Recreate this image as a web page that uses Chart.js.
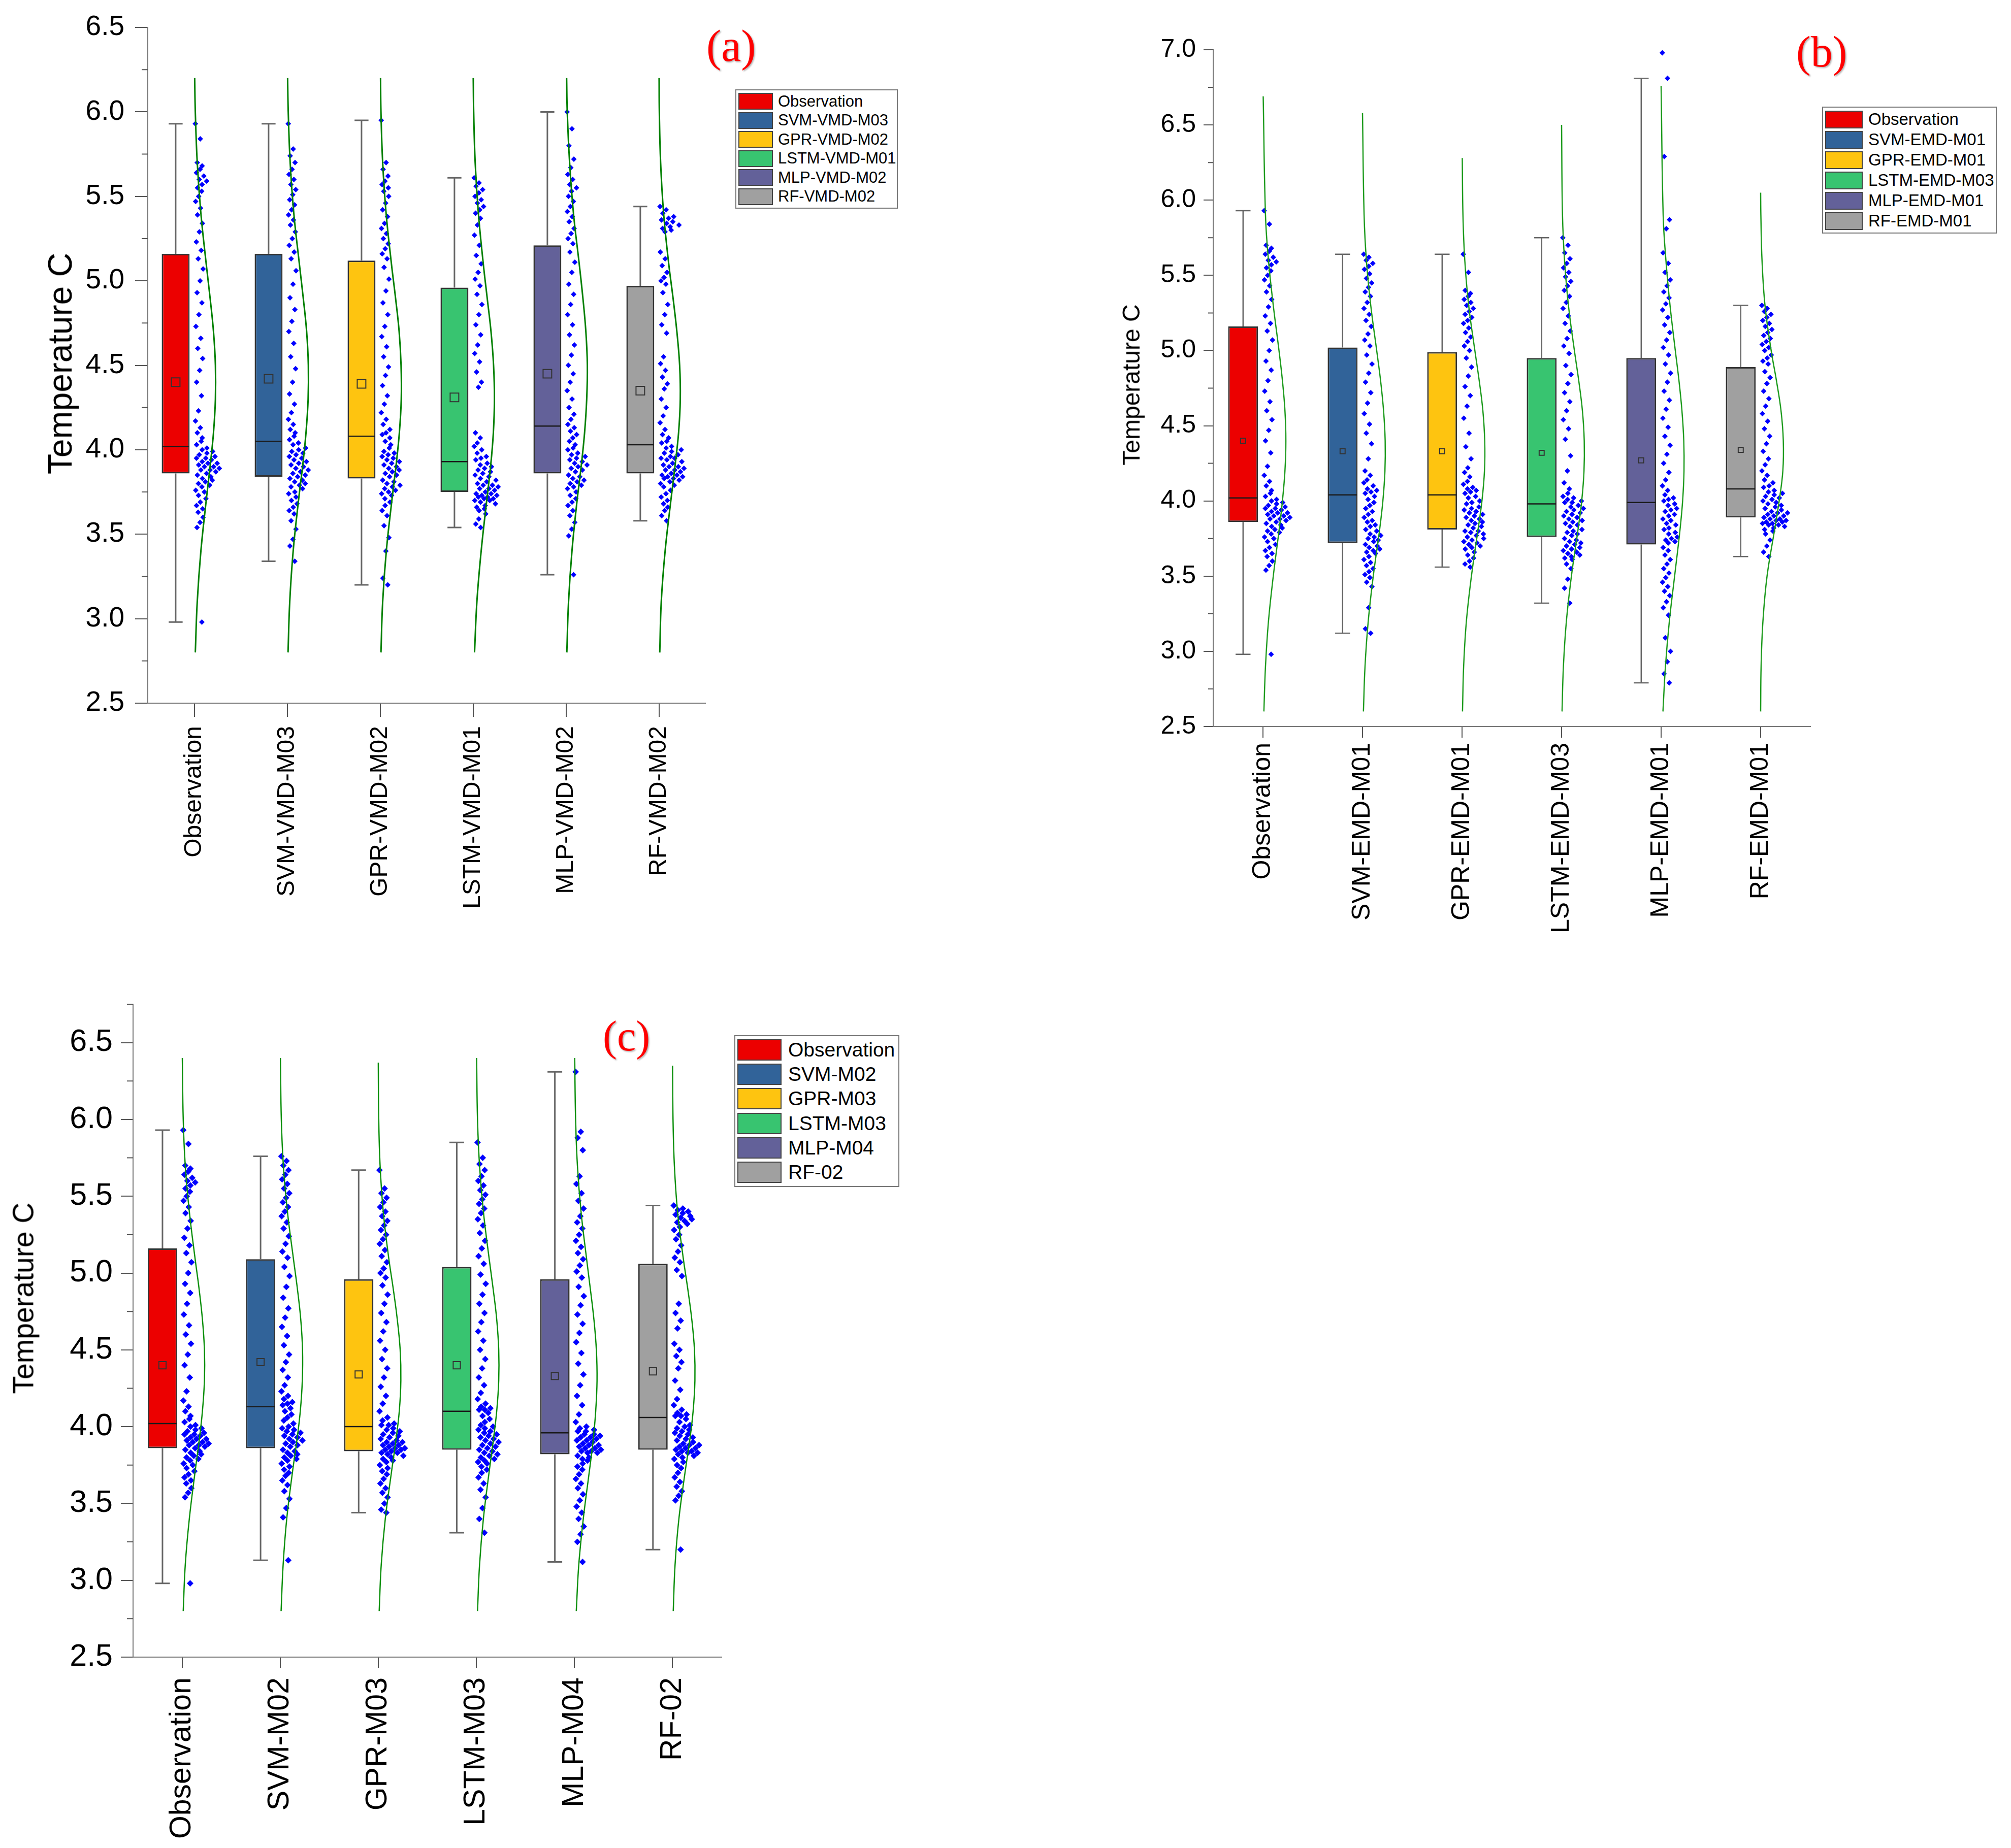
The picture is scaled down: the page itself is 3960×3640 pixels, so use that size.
<!DOCTYPE html>
<html>
<head>
<meta charset="utf-8">
<title>Temperature distributions by model</title>
<script src="https://cdn.jsdelivr.net/npm/chart.js@4.4.1/dist/chart.umd.min.js"></script>
<style>
  body { margin: 0; background: #fff; font-family: 'Liberation Sans', Arial, sans-serif; }
  #page { position: relative; width: 3960px; height: 3640px; overflow: hidden; background: #fff; }
  canvas { position: absolute; }
  .legend { position: absolute; border: 2px solid #777; box-sizing: border-box; background: #fff; padding: 3px 4px; color: #000; }
  .legend .row { display: flex; align-items: center; white-space: nowrap; }
  .legend .swatch { box-sizing: border-box; border: 2px solid #444; flex: none; }
  .tag { position: absolute; font-family: 'Liberation Serif', 'Times New Roman', serif; color: #f00; line-height: 1; text-shadow: 2px 2px 3px rgba(0,0,0,0.3); }
  .ytitle { position: absolute; white-space: nowrap; line-height: 1; color: #000; transform: translate(-50%, -50%) rotate(-90deg); }
</style>
</head>
<body>
<div id="page">
  <canvas id="chartA" width="1403" height="1805" style="left:0;top:0"></canvas>
  <canvas id="chartB" width="1474" height="1871" style="left:2100px;top:0"></canvas>
  <canvas id="chartC" width="1433" height="1764" style="left:0;top:1900px"></canvas>
</div>
<script>
// ---- categories and tick labels ----
const aCategories = ['Observation', 'SVM-VMD-M03', 'GPR-VMD-M02', 'LSTM-VMD-M01', 'MLP-VMD-M02', 'RF-VMD-M02'];
const bCategories = ['Observation', 'SVM-EMD-M01', 'GPR-EMD-M01', 'LSTM-EMD-M03', 'MLP-EMD-M01', 'RF-EMD-M01'];
const cCategories = ['Observation', 'SVM-M02', 'GPR-M03', 'LSTM-M03', 'MLP-M04', 'RF-02'];
const boxColors = ['#EC0000', '#316399', '#FEC410', '#38C470', '#636199', '#A0A0A0'];

const aYTicks = [2.5, 3.0, 3.5, 4.0, 4.5, 5.0, 5.5, 6.0, 6.5];
const bYTicks = [2.5, 3.0, 3.5, 4.0, 4.5, 5.0, 5.5, 6.0, 6.5, 7.0];
const cYTicks = [2.5, 3.0, 3.5, 4.0, 4.5, 5.0, 5.5, 6.0, 6.5];

// ---- box statistics (whisker ends, quartiles, median, mean) ----
const aMin = [2.98, 3.34, 3.20, 3.54, 3.26, 3.58];
const aQ1 = [3.86, 3.84, 3.83, 3.75, 3.86, 3.86];
const aMedian = [4.02, 4.05, 4.08, 3.93, 4.14, 4.03];
const aQ3 = [5.16, 5.16, 5.12, 4.96, 5.21, 4.97];
const aMax = [5.93, 5.93, 5.95, 5.61, 6.00, 5.44];
const aMean = [4.40, 4.42, 4.39, 4.31, 4.45, 4.35];

const bMin = [2.98, 3.12, 3.56, 3.32, 2.79, 3.63];
const bQ1 = [3.86, 3.72, 3.81, 3.76, 3.71, 3.89];
const bMedian = [4.02, 4.04, 4.04, 3.98, 3.99, 4.08];
const bQ3 = [5.16, 5.02, 4.99, 4.95, 4.95, 4.89];
const bMax = [5.93, 5.64, 5.64, 5.75, 6.81, 5.30];
const bMean = [4.40, 4.33, 4.33, 4.32, 4.27, 4.34];

const cMin = [2.98, 3.13, 3.44, 3.31, 3.12, 3.20];
const cQ1 = [3.86, 3.86, 3.84, 3.85, 3.82, 3.85];
const cMedian = [4.02, 4.13, 4.00, 4.10, 3.96, 4.06];
const cQ3 = [5.16, 5.09, 4.96, 5.04, 4.96, 5.06];
const cMax = [5.93, 5.76, 5.67, 5.85, 6.31, 5.44];
const cMean = [4.40, 4.42, 4.34, 4.40, 4.33, 4.36];

// ---- individual values ----
const obsPoints = [5.93, 5.84, 5.70, 5.68, 5.66, 5.64, 5.62, 5.60, 5.59, 5.57, 5.55, 5.53, 5.50, 5.47, 5.43, 5.39, 5.34, 5.29, 5.23, 5.18,
  5.13, 5.07, 5.00, 4.93, 4.87, 4.80, 4.73, 4.66, 4.60, 4.54, 4.47, 4.40, 4.32, 4.23, 4.17, 4.13, 4.10, 4.07, 4.05, 4.03,
  4.01, 4.00, 3.99, 3.98, 3.97, 3.96, 3.95, 3.95, 3.94, 3.93, 3.92, 3.92, 3.91, 3.90, 3.90, 3.89, 3.88, 3.88, 3.87, 3.86,
  3.85, 3.84, 3.83, 3.82, 3.81, 3.80, 3.79, 3.78, 3.76, 3.75, 3.73, 3.71, 3.69, 3.67, 3.65, 3.63, 3.60, 3.57, 3.54, 2.98];

const aSvmPoints = [5.93, 5.78, 5.74, 5.70, 5.66, 5.63, 5.60, 5.57, 5.54, 5.51, 5.48, 5.45, 5.42, 5.39, 5.36, 5.33, 5.29, 5.25, 5.21, 5.17,
  5.13, 5.06, 4.98, 4.90, 4.83, 4.76, 4.70, 4.63, 4.55, 4.48, 4.40, 4.33, 4.27, 4.22, 4.18, 4.15, 4.12, 4.10, 4.08, 4.06,
  4.04, 4.03, 4.01, 4.00, 3.99, 3.98, 3.97, 3.96, 3.95, 3.94, 3.93, 3.92, 3.91, 3.90, 3.89, 3.88, 3.87, 3.86, 3.85, 3.84,
  3.83, 3.82, 3.81, 3.80, 3.79, 3.78, 3.77, 3.75, 3.74, 3.72, 3.70, 3.68, 3.66, 3.64, 3.62, 3.58, 3.53, 3.47, 3.43, 3.34];
const aGprPoints = [5.95, 5.70, 5.66, 5.62, 5.59, 5.57, 5.55, 5.53, 5.50, 5.46, 5.42, 5.38, 5.34, 5.31, 5.28, 5.25, 5.22, 5.19, 5.16, 5.13,
  5.08, 5.01, 4.94, 4.87, 4.80, 4.73, 4.67, 4.61, 4.55, 4.49, 4.44, 4.38, 4.32, 4.27, 4.22, 4.18, 4.15, 4.12, 4.10, 4.09,
  4.07, 4.05, 4.03, 4.01, 3.99, 3.98, 3.97, 3.96, 3.95, 3.94, 3.93, 3.92, 3.91, 3.90, 3.89, 3.88, 3.87, 3.86, 3.85, 3.84,
  3.82, 3.81, 3.80, 3.79, 3.78, 3.77, 3.76, 3.75, 3.74, 3.73, 3.71, 3.69, 3.67, 3.64, 3.61, 3.55, 3.48, 3.40, 3.24, 3.20];
const aLstmPoints = [5.61, 5.58, 5.56, 5.54, 5.52, 5.50, 5.48, 5.46, 5.44, 5.42, 5.40, 5.37, 5.33, 5.27, 5.21, 5.15, 5.10, 5.05, 5.01, 4.97,
  4.92, 4.86, 4.80, 4.74, 4.68, 4.62, 4.57, 4.52, 4.46, 4.40, 4.37, 4.10, 4.07, 4.04, 4.02, 4.00, 3.98, 3.96, 3.95, 3.94,
  3.92, 3.91, 3.90, 3.89, 3.88, 3.87, 3.86, 3.85, 3.84, 3.83, 3.82, 3.81, 3.80, 3.79, 3.79, 3.78, 3.77, 3.77, 3.76, 3.75,
  3.74, 3.74, 3.73, 3.73, 3.72, 3.72, 3.71, 3.71, 3.70, 3.70, 3.69, 3.68, 3.67, 3.66, 3.65, 3.64, 3.62, 3.59, 3.56, 3.54];
const aMlpPoints = [6.00, 5.90, 5.80, 5.72, 5.67, 5.63, 5.60, 5.57, 5.55, 5.53, 5.50, 5.47, 5.44, 5.41, 5.38, 5.35, 5.31, 5.28, 5.25, 5.22,
  5.17, 5.11, 5.05, 4.98, 4.92, 4.86, 4.80, 4.74, 4.68, 4.62, 4.56, 4.50, 4.45, 4.40, 4.35, 4.30, 4.25, 4.21, 4.18, 4.15,
  4.13, 4.11, 4.09, 4.07, 4.05, 4.03, 4.01, 4.00, 3.98, 3.97, 3.96, 3.95, 3.94, 3.93, 3.92, 3.91, 3.90, 3.89, 3.88, 3.87,
  3.85, 3.84, 3.83, 3.82, 3.81, 3.80, 3.79, 3.78, 3.77, 3.75, 3.73, 3.71, 3.69, 3.67, 3.64, 3.61, 3.57, 3.53, 3.49, 3.26];
const aRfPoints = [5.44, 5.42, 5.40, 5.38, 5.37, 5.36, 5.35, 5.34, 5.33, 5.32, 5.31, 5.30, 5.29, 5.17, 5.13, 5.09, 5.05, 5.02, 5.00, 4.98,
  4.93, 4.86, 4.80, 4.74, 4.69, 4.55, 4.51, 4.47, 4.43, 4.39, 4.36, 4.30, 4.25, 4.20, 4.16, 4.12, 4.09, 4.07, 4.05, 4.04,
  4.02, 4.01, 4.00, 3.99, 3.98, 3.97, 3.96, 3.95, 3.95, 3.94, 3.93, 3.92, 3.91, 3.90, 3.90, 3.89, 3.88, 3.88, 3.87, 3.86,
  3.85, 3.85, 3.84, 3.84, 3.83, 3.83, 3.82, 3.81, 3.80, 3.79, 3.78, 3.76, 3.74, 3.72, 3.70, 3.68, 3.66, 3.64, 3.61, 3.58];

const bSvmPoints = [5.64, 5.62, 5.60, 5.58, 5.56, 5.54, 5.51, 5.48, 5.45, 5.42, 5.39, 5.36, 5.32, 5.28, 5.24, 5.20, 5.16, 5.11, 5.07, 5.03,
  4.97, 4.91, 4.85, 4.79, 4.72, 4.65, 4.58, 4.51, 4.45, 4.38, 4.28, 4.20, 4.17, 4.14, 4.12, 4.10, 4.08, 4.07, 4.06, 4.05,
  4.03, 4.01, 3.99, 3.97, 3.95, 3.93, 3.91, 3.89, 3.87, 3.86, 3.84, 3.83, 3.81, 3.80, 3.78, 3.77, 3.76, 3.75, 3.74, 3.73,
  3.71, 3.70, 3.69, 3.68, 3.67, 3.66, 3.65, 3.63, 3.61, 3.59, 3.57, 3.55, 3.53, 3.51, 3.49, 3.46, 3.43, 3.29, 3.15, 3.12];
const bGprPoints = [5.64, 5.52, 5.40, 5.38, 5.36, 5.34, 5.32, 5.30, 5.28, 5.26, 5.24, 5.22, 5.20, 5.18, 5.15, 5.12, 5.09, 5.06, 5.03, 5.00,
  4.95, 4.89, 4.83, 4.76, 4.70, 4.63, 4.55, 4.45, 4.36, 4.28, 4.22, 4.19, 4.16, 4.13, 4.11, 4.09, 4.08, 4.07, 4.06, 4.05,
  4.03, 4.02, 4.00, 3.99, 3.98, 3.96, 3.95, 3.94, 3.93, 3.92, 3.91, 3.90, 3.89, 3.88, 3.87, 3.86, 3.85, 3.84, 3.83, 3.82,
  3.80, 3.80, 3.79, 3.78, 3.77, 3.76, 3.75, 3.74, 3.73, 3.72, 3.71, 3.70, 3.69, 3.68, 3.66, 3.64, 3.62, 3.60, 3.58, 3.56];
const bLstmPoints = [5.75, 5.70, 5.65, 5.61, 5.58, 5.55, 5.52, 5.49, 5.46, 5.43, 5.40, 5.36, 5.32, 5.28, 5.23, 5.18, 5.13, 5.08, 5.03, 4.98,
  4.90, 4.84, 4.78, 4.72, 4.66, 4.60, 4.54, 4.48, 4.41, 4.30, 4.20, 4.12, 4.08, 4.05, 4.03, 4.02, 4.01, 4.00, 3.99, 3.99,
  3.97, 3.96, 3.95, 3.94, 3.93, 3.92, 3.91, 3.90, 3.89, 3.88, 3.87, 3.86, 3.85, 3.84, 3.83, 3.81, 3.80, 3.79, 3.78, 3.77,
  3.75, 3.74, 3.73, 3.72, 3.71, 3.70, 3.69, 3.68, 3.67, 3.66, 3.65, 3.64, 3.63, 3.62, 3.61, 3.58, 3.55, 3.48, 3.42, 3.32];
const bMlpPoints = [6.98, 6.81, 6.29, 5.87, 5.81, 5.65, 5.58, 5.52, 5.47, 5.43, 5.39, 5.35, 5.31, 5.27, 5.22, 5.17, 5.12, 5.07, 5.02, 4.97,
  4.91, 4.85, 4.79, 4.73, 4.67, 4.61, 4.55, 4.49, 4.43, 4.37, 4.31, 4.25, 4.19, 4.14, 4.10, 4.07, 4.04, 4.02, 4.01, 4.00,
  3.98, 3.97, 3.95, 3.94, 3.93, 3.91, 3.90, 3.88, 3.87, 3.85, 3.84, 3.82, 3.81, 3.79, 3.78, 3.76, 3.75, 3.74, 3.73, 3.72,
  3.69, 3.67, 3.64, 3.61, 3.58, 3.55, 3.52, 3.49, 3.46, 3.43, 3.40, 3.37, 3.33, 3.29, 3.24, 3.09, 3.00, 2.93, 2.85, 2.79];
const bRfPoints = [5.30, 5.28, 5.26, 5.24, 5.22, 5.20, 5.18, 5.16, 5.14, 5.12, 5.10, 5.08, 5.06, 5.04, 5.02, 5.00, 4.97, 4.95, 4.93, 4.91,
  4.86, 4.82, 4.78, 4.73, 4.68, 4.63, 4.58, 4.53, 4.48, 4.43, 4.38, 4.33, 4.28, 4.24, 4.20, 4.17, 4.14, 4.12, 4.10, 4.09,
  4.07, 4.06, 4.05, 4.04, 4.03, 4.02, 4.01, 4.00, 3.99, 3.98, 3.97, 3.96, 3.95, 3.94, 3.93, 3.92, 3.92, 3.91, 3.90, 3.90,
  3.89, 3.88, 3.88, 3.87, 3.87, 3.86, 3.86, 3.85, 3.85, 3.84, 3.84, 3.83, 3.82, 3.81, 3.80, 3.78, 3.74, 3.70, 3.66, 3.63];

const cSvmPoints = [5.76, 5.73, 5.70, 5.67, 5.64, 5.61, 5.58, 5.55, 5.52, 5.49, 5.46, 5.43, 5.40, 5.37, 5.33, 5.29, 5.24, 5.19, 5.14, 5.10,
  5.04, 4.98, 4.91, 4.84, 4.77, 4.71, 4.65, 4.59, 4.53, 4.47, 4.42, 4.37, 4.32, 4.27, 4.23, 4.20, 4.18, 4.16, 4.15, 4.14,
  4.12, 4.10, 4.08, 4.06, 4.04, 4.02, 4.00, 3.99, 3.98, 3.97, 3.96, 3.95, 3.94, 3.93, 3.92, 3.91, 3.90, 3.89, 3.88, 3.87,
  3.85, 3.84, 3.83, 3.82, 3.81, 3.80, 3.79, 3.78, 3.76, 3.74, 3.72, 3.70, 3.68, 3.65, 3.62, 3.58, 3.53, 3.47, 3.41, 3.13];
const cGprPoints = [5.67, 5.55, 5.52, 5.49, 5.46, 5.43, 5.40, 5.37, 5.34, 5.31, 5.28, 5.25, 5.22, 5.19, 5.15, 5.11, 5.07, 5.03, 5.00, 4.97,
  4.92, 4.86, 4.80, 4.74, 4.68, 4.62, 4.56, 4.50, 4.44, 4.38, 4.32, 4.26, 4.20, 4.15, 4.10, 4.06, 4.04, 4.02, 4.01, 4.01,
  3.99, 3.98, 3.97, 3.96, 3.95, 3.94, 3.93, 3.92, 3.91, 3.90, 3.90, 3.89, 3.88, 3.88, 3.87, 3.86, 3.86, 3.85, 3.85, 3.84,
  3.83, 3.83, 3.82, 3.81, 3.80, 3.79, 3.78, 3.77, 3.75, 3.73, 3.71, 3.69, 3.66, 3.63, 3.60, 3.57, 3.54, 3.50, 3.46, 3.44];
const cLstmPoints = [5.85, 5.75, 5.71, 5.67, 5.63, 5.60, 5.57, 5.54, 5.51, 5.48, 5.45, 5.42, 5.39, 5.35, 5.31, 5.26, 5.21, 5.16, 5.11, 5.06,
  4.99, 4.93, 4.86, 4.80, 4.74, 4.68, 4.62, 4.56, 4.50, 4.44, 4.38, 4.32, 4.27, 4.22, 4.18, 4.15, 4.13, 4.12, 4.11, 4.11,
  4.09, 4.07, 4.05, 4.03, 4.01, 4.00, 3.99, 3.98, 3.97, 3.96, 3.95, 3.94, 3.93, 3.92, 3.91, 3.90, 3.89, 3.88, 3.87, 3.86,
  3.85, 3.84, 3.83, 3.82, 3.81, 3.80, 3.79, 3.78, 3.77, 3.76, 3.74, 3.72, 3.70, 3.67, 3.63, 3.59, 3.54, 3.47, 3.40, 3.31];
const cMlpPoints = [6.31, 5.92, 5.88, 5.80, 5.63, 5.58, 5.52, 5.47, 5.42, 5.37, 5.33, 5.29, 5.25, 5.21, 5.17, 5.13, 5.09, 5.05, 5.01, 4.97,
  4.91, 4.85, 4.79, 4.73, 4.67, 4.61, 4.55, 4.48, 4.41, 4.34, 4.27, 4.20, 4.14, 4.08, 4.03, 4.00, 3.99, 3.98, 3.97, 3.97,
  3.95, 3.95, 3.94, 3.93, 3.93, 3.92, 3.91, 3.91, 3.90, 3.89, 3.88, 3.88, 3.87, 3.86, 3.86, 3.85, 3.84, 3.84, 3.83, 3.83,
  3.81, 3.80, 3.79, 3.78, 3.76, 3.74, 3.72, 3.69, 3.66, 3.63, 3.60, 3.56, 3.52, 3.48, 3.44, 3.40, 3.35, 3.30, 3.25, 3.12];
const cRfPoints = [5.44, 5.42, 5.41, 5.40, 5.39, 5.38, 5.37, 5.36, 5.35, 5.34, 5.33, 5.32, 5.30, 5.28, 5.25, 5.22, 5.18, 5.14, 5.10, 5.07,
  5.02, 4.98, 4.80, 4.74, 4.69, 4.64, 4.54, 4.50, 4.46, 4.42, 4.38, 4.30, 4.24, 4.18, 4.14, 4.11, 4.09, 4.08, 4.07, 4.07,
  4.05, 4.03, 4.01, 4.00, 3.99, 3.98, 3.97, 3.96, 3.95, 3.94, 3.93, 3.92, 3.91, 3.90, 3.89, 3.88, 3.88, 3.87, 3.86, 3.86,
  3.85, 3.84, 3.84, 3.83, 3.83, 3.82, 3.81, 3.80, 3.79, 3.77, 3.75, 3.73, 3.70, 3.67, 3.64, 3.61, 3.58, 3.55, 3.52, 3.20];

// ---- distribution curves: relative density at each level, last entry = curve end ----
const aCurveLevels = [2.8, 3.1, 3.4, 3.7, 3.9, 4.1, 4.3, 4.5, 4.7, 4.9, 5.1, 5.4, 5.7, 6.0];
const aCurveTop = [6.2, 6.2, 6.2, 6.2, 6.2, 6.2];
const aCurveDensity = [
  [0.05, 0.14, 0.31, 0.56, 0.74, 0.90, 0.99, 0.99, 0.90, 0.74, 0.56, 0.31, 0.14, 0.05, 0.02],
  [0.04, 0.12, 0.28, 0.53, 0.72, 0.88, 0.98, 0.99, 0.91, 0.75, 0.57, 0.31, 0.14, 0.05, 0.02],
  [0.04, 0.12, 0.29, 0.55, 0.74, 0.90, 0.99, 0.98, 0.89, 0.72, 0.53, 0.28, 0.12, 0.04, 0.02],
  [0.07, 0.18, 0.38, 0.64, 0.82, 0.95, 1.00, 0.96, 0.84, 0.66, 0.48, 0.25, 0.10, 0.03, 0.01],
  [0.04, 0.12, 0.28, 0.52, 0.71, 0.87, 0.97, 1.00, 0.93, 0.79, 0.62, 0.35, 0.17, 0.06, 0.03],
  [0.04, 0.11, 0.29, 0.56, 0.75, 0.92, 1.00, 0.97, 0.84, 0.66, 0.46, 0.22, 0.08, 0.02, 0.01]
];
const bCurveLevels = [2.6, 2.9, 3.2, 3.5, 3.8, 4.0, 4.2, 4.4, 4.6, 4.8, 5.0, 5.3, 5.6, 5.9];
const bCurveTop = [6.69, 6.58, 6.28, 6.50, 6.76, 6.05];
const bCurveDensity = [
  [0.04, 0.11, 0.24, 0.45, 0.70, 0.85, 0.96, 1.00, 0.96, 0.85, 0.70, 0.45, 0.24, 0.11, 0.01],
  [0.04, 0.11, 0.25, 0.47, 0.74, 0.89, 0.98, 0.99, 0.92, 0.79, 0.62, 0.36, 0.17, 0.07, 0.00],
  [0.02, 0.07, 0.19, 0.41, 0.69, 0.87, 0.98, 0.99, 0.91, 0.75, 0.56, 0.29, 0.12, 0.04, 0.01],
  [0.02, 0.08, 0.21, 0.43, 0.71, 0.88, 0.98, 0.99, 0.91, 0.75, 0.56, 0.30, 0.13, 0.04, 0.00],
  [0.08, 0.19, 0.36, 0.59, 0.82, 0.94, 1.00, 0.99, 0.91, 0.78, 0.62, 0.39, 0.21, 0.09, 0.00],
  [0.00, 0.02, 0.10, 0.28, 0.60, 0.81, 0.97, 0.99, 0.89, 0.69, 0.46, 0.19, 0.06, 0.01, 0.00]
];
const cCurveLevels = [2.8, 3.1, 3.4, 3.7, 3.9, 4.1, 4.3, 4.5, 4.7, 4.9, 5.1, 5.4, 5.7, 6.0];
const cCurveTop = [6.40, 6.40, 6.37, 6.40, 6.40, 6.35];
const cCurveDensity = [
  [0.05, 0.14, 0.32, 0.57, 0.75, 0.90, 0.99, 0.99, 0.90, 0.75, 0.57, 0.32, 0.14, 0.05, 0.01],
  [0.04, 0.13, 0.29, 0.54, 0.73, 0.89, 0.98, 0.99, 0.91, 0.76, 0.58, 0.32, 0.14, 0.05, 0.01],
  [0.04, 0.13, 0.31, 0.58, 0.77, 0.93, 1.00, 0.97, 0.84, 0.66, 0.46, 0.22, 0.08, 0.02, 0.00],
  [0.05, 0.14, 0.31, 0.56, 0.74, 0.90, 0.99, 0.99, 0.90, 0.74, 0.56, 0.31, 0.14, 0.05, 0.01],
  [0.08, 0.19, 0.39, 0.65, 0.82, 0.94, 1.00, 0.97, 0.86, 0.70, 0.53, 0.29, 0.13, 0.05, 0.01],
  [0.03, 0.11, 0.28, 0.55, 0.75, 0.91, 0.99, 0.97, 0.85, 0.67, 0.47, 0.22, 0.08, 0.02, 0.00]
];

// ---- layout constants (in category units on the x axis) ----
const BOX_SHIFT = -0.2;    // boxes sit left of the category tick
const CAP_HALF = 0.075;
const MEDIAN_HALF = 0.145;
const CURVE_WIDTH = 0.23;  // peak of each density curve
const FONT = "'Liberation Sans', Arial, sans-serif";

// spread the dots to the right of the tick, wider where values crowd together
function spreadPoints(values, cat) {
  return values.map((v, i) => {
    const near = values.filter(u => Math.abs(u - v) <= 0.05).length / values.length;
    const width = 0.085 + 0.175 * Math.min(1, Math.max(0, (near - 0.05) / 0.1));
    const slot = (i * 0.618034) % 1;
    return { x: cat + 0.012 + slot * width, y: v };
  });
}

function curveData(levels, top, dens, cat) {
  return levels.concat([top]).map((y, j) => ({ x: cat + dens[j] * CURVE_WIDTH, y: y }));
}

function whiskerData(p) {
  const pts = [];
  p.min.forEach((lo, i) => {
    const x = i + 1 + BOX_SHIFT;
    const hi = p.max[i];
    pts.push({ x: x, y: lo }, { x: x, y: p.q1[i] }, { x: x, y: null },
      { x: x, y: p.q3[i] }, { x: x, y: hi }, { x: x, y: null },
      { x: x - CAP_HALF, y: lo }, { x: x + CAP_HALF, y: lo }, { x: x, y: null },
      { x: x - CAP_HALF, y: hi }, { x: x + CAP_HALF, y: hi }, { x: x, y: null });
  });
  return pts;
}

function medianData(p) {
  const pts = [];
  p.median.forEach((m, i) => {
    const x = i + 1 + BOX_SHIFT;
    pts.push({ x: x - MEDIAN_HALF, y: m }, { x: x + MEDIAN_HALF, y: m }, { x: x, y: null });
  });
  return pts;
}

const minorTicks = {
  id: 'minorTicks',
  afterDraw(chart, args, opts) {
    const sc = chart.scales.y;
    const ctx = chart.ctx;
    ctx.save();
    ctx.strokeStyle = '#555';
    ctx.lineWidth = 2;
    ctx.beginPath();
    for (let v = sc.min + 0.25; v <= sc.max + 1e-9; v += 0.5) {
      const py = sc.getPixelForValue(v);
      ctx.moveTo(sc.right - opts.length, py);
      ctx.lineTo(sc.right, py);
    }
    ctx.stroke();
    ctx.restore();
  }
};

function buildPanel(canvasId, p, s) {
  const datasets = [];
  datasets.push({
    type: 'line', order: 0, data: medianData(p),
    borderColor: '#1a1a1a', borderWidth: 2.5, pointRadius: 0, tension: 0, spanGaps: false, fill: false
  });
  datasets.push({
    type: 'scatter', order: 1,
    data: p.mean.map((m, i) => ({ x: i + 1 + BOX_SHIFT, y: m })),
    pointStyle: 'rect', pointRadius: s.meanR, pointBackgroundColor: 'rgba(0,0,0,0)',
    pointBorderColor: '#333', pointBorderWidth: 2
  });
  p.curveDensity.forEach((dens, i) => {
    datasets.push({
      type: 'line', order: 2, data: curveData(p.curveLevels, p.curveTop[i], dens, i + 1),
      borderColor: s.curveColor, borderWidth: s.curveW, pointRadius: 0, tension: 0.4, fill: false
    });
  });
  datasets.push({
    type: 'scatter', order: 3,
    data: p.points.flatMap((vals, i) => spreadPoints(vals, i + 1)),
    pointStyle: 'rectRot', pointRadius: s.dot, pointBackgroundColor: '#0000FF', pointBorderWidth: 0
  });
  datasets.push({
    type: 'bar', order: 4,
    data: p.q1.map((q, i) => ({ x: i + 1 + BOX_SHIFT, y: [q, p.q3[i]] })),
    backgroundColor: boxColors, borderColor: '#333', borderWidth: 3, borderSkipped: false,
    barPercentage: 0.3, categoryPercentage: 1.0
  });
  datasets.push({
    type: 'line', order: 5, data: whiskerData(p),
    borderColor: '#666', borderWidth: s.whiskerW, pointRadius: 0, tension: 0, spanGaps: false, fill: false
  });

  return new Chart(document.getElementById(canvasId), {
    type: 'bar',
    data: { datasets: datasets },
    plugins: [minorTicks],
    options: {
      responsive: false,
      animation: false,
      devicePixelRatio: 1,
      events: [],
      layout: { padding: { top: s.padTop, left: 0, right: 0, bottom: 0 } },
      plugins: {
        legend: { display: false },
        tooltip: { enabled: false },
        minorTicks: { length: s.minorLen }
      },
      scales: {
        x: {
          type: 'linear', min: 0.5, max: 6.5, offset: false,
          afterBuildTicks: sc => { sc.ticks = p.categories.map((c, i) => ({ value: i + 1 })); },
          afterFit: sc => { sc.height = s.xHeight; },
          ticks: {
            autoSkip: false, minRotation: 90, maxRotation: 90, padding: s.xPad, color: '#000',
            font: { family: FONT, size: s.xFont },
            callback: (v, i) => p.categories[i]
          },
          grid: { offset: false, drawOnChartArea: false, tickLength: s.xTick, color: '#555', lineWidth: 2 },
          border: { display: true, color: '#777', width: 2 }
        },
        y: {
          min: p.yMin, max: p.yMax,
          afterBuildTicks: sc => { sc.ticks = p.yTicks.map(v => ({ value: v })); },
          afterFit: sc => { sc.width = s.yWidth; },
          ticks: {
            padding: s.yPad, color: '#000', font: { family: FONT, size: s.yFont },
            callback: v => v.toFixed(1)
          },
          grid: { drawOnChartArea: false, tickLength: s.yTick, color: '#555', lineWidth: 2 },
          border: { display: true, color: '#777', width: 2 }
        }
      }
    }
  });
}

const page = document.getElementById('page');

function addLegend(labels, b) {
  const div = document.createElement('div');
  div.className = 'legend';
  Object.assign(div.style, {
    left: b.left + 'px', top: b.top + 'px', width: b.width + 'px', height: b.height + 'px', fontSize: b.font + 'px'
  });
  const rowH = (b.height - 4 - 6) / labels.length;
  labels.forEach((label, i) => {
    const row = document.createElement('div');
    row.className = 'row';
    row.style.height = rowH + 'px';
    const sw = document.createElement('span');
    sw.className = 'swatch';
    sw.style.width = b.swW + 'px';
    sw.style.height = b.swH + 'px';
    sw.style.background = boxColors[i];
    const tx = document.createElement('span');
    tx.textContent = label;
    tx.style.marginLeft = b.gap + 'px';
    row.append(sw, tx);
    div.append(row);
  });
  page.append(div);
}

function addText(cls, text, left, top, size) {
  const div = document.createElement('div');
  div.className = cls;
  div.textContent = text;
  Object.assign(div.style, { left: left + 'px', top: top + 'px', fontSize: size + 'px' });
  page.append(div);
}

buildPanel('chartA', {
  categories: aCategories, yMin: 2.5, yMax: 6.5, yTicks: aYTicks,
  min: aMin, q1: aQ1, median: aMedian, q3: aQ3, max: aMax, mean: aMean,
  points: [obsPoints, aSvmPoints, aGprPoints, aLstmPoints, aMlpPoints, aRfPoints],
  curveLevels: aCurveLevels, curveTop: aCurveTop, curveDensity: aCurveDensity
}, { padTop: 44, yWidth: 291, xHeight: 420, yFont: 55, xFont: 48, yTick: 25, xTick: 27, yPad: 21, xPad: 18,
     minorLen: 12, dot: 5.5, meanR: 12, curveColor: '#008000', curveW: 3, whiskerW: 3 });

buildPanel('chartB', {
  categories: bCategories, yMin: 2.5, yMax: 7.0, yTicks: bYTicks,
  min: bMin, q1: bQ1, median: bMedian, q3: bQ3, max: bMax, mean: bMean,
  points: [obsPoints, bSvmPoints, bGprPoints, bLstmPoints, bMlpPoints, bRfPoints],
  curveLevels: bCurveLevels, curveTop: bCurveTop, curveDensity: bCurveDensity
}, { padTop: 98, yWidth: 289, xHeight: 440, yFont: 50, xFont: 50, yTick: 19, xTick: 22, yPad: 15, xPad: 10,
     minorLen: 10, dot: 5.5, meanR: 7, curveColor: '#1E9B1E', curveW: 2.5, whiskerW: 2.5 });

buildPanel('chartC', {
  categories: cCategories, yMin: 2.5, yMax: 6.75, yTicks: cYTicks,
  min: cMin, q1: cQ1, median: cMedian, q3: cQ3, max: cMax, mean: cMean,
  points: [obsPoints, cSvmPoints, cGprPoints, cLstmPoints, cMlpPoints, cRfPoints],
  curveLevels: cCurveLevels, curveTop: cCurveTop, curveDensity: cCurveDensity
}, { padTop: 78, yWidth: 262, xHeight: 400, yFont: 61, xFont: 59, yTick: 24, xTick: 21, yPad: 16, xPad: 19,
     minorLen: 12, dot: 6.5, meanR: 10, curveColor: '#0A8F0A', curveW: 2.5, whiskerW: 3 });

addLegend(aCategories, { left: 1448, top: 176, width: 320, height: 235, font: 31, swW: 68, swH: 33, gap: 10 });
addLegend(bCategories, { left: 3588, top: 210, width: 344, height: 250, font: 33, swW: 74, swH: 35, gap: 11 });
addLegend(cCategories, { left: 1446, top: 2039, width: 325, height: 299, font: 39, swW: 87, swH: 42, gap: 13 });

addText('tag', '(a)', 1391, 47, 88);
addText('tag', '(b)', 3537, 59, 86);
addText('tag', '(c)', 1187, 1999, 84);

addText('ytitle', 'Temperature C', 118, 716, 66);
addText('ytitle', 'Temperature C', 2228, 758, 48);
addText('ytitle', 'Temperature C', 46, 2557, 57);
</script>
</body>
</html>
